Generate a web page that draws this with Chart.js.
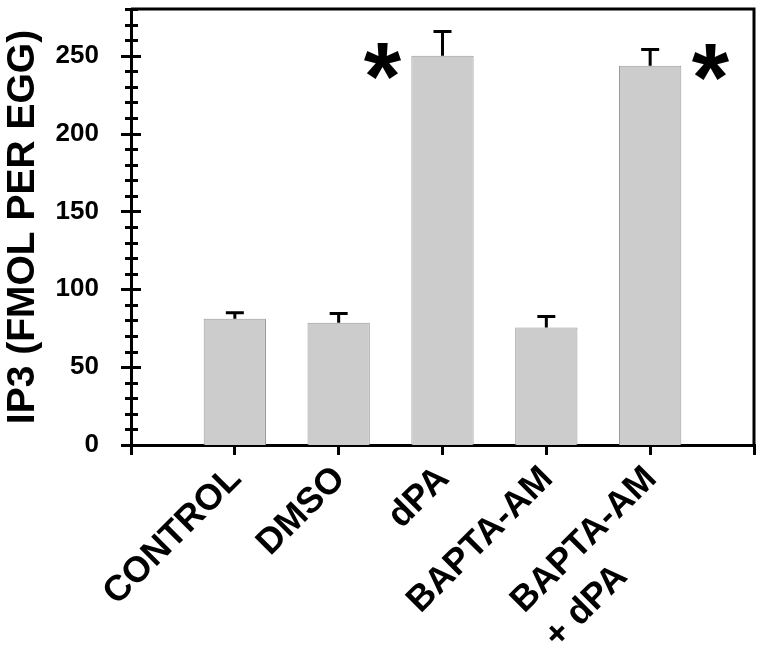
<!DOCTYPE html>
<html><head><meta charset="utf-8">
<script src="https://cdn.jsdelivr.net/npm/chart.js@4.4.0/dist/chart.umd.min.js"></script>
<style>html,body{margin:0;padding:0;background:#fff}#wrap{width:764px;height:651px}</style>
</head><body><div id="wrap"><canvas id="c" width="764" height="651"></canvas></div>
<script>
const categories = ['CONTROL', 'DMSO', 'dPA', 'BAPTA-AM', ['BAPTA-AM', '+ dPA']];
const values = [81, 78.5, 250, 75.5, 243.5];
const errors = [4, 6, 15.5, 7, 10.5];
const yTickLabels = [0, 50, 100, 150, 200, 250];
const yMin = 0, yMax = 280, yMinorStep = 10;
const yTitle = 'IP3 (FMOL PER EGG)';
const significance = [{index: 2, side: -1, value: 245}, {index: 4, side: 1, value: 244}];

const FAMILY = '"Liberation Sans", Arial, Helvetica, sans-serif';
const labels = ['', ...categories, ''];

const decorPlugin = {
  id: 'decor',
  afterDatasetsDraw(chart) {
    const ctx = chart.ctx, ys = chart.scales.y;
    const meta = chart.getDatasetMeta(0);
    ctx.save();
    ctx.strokeStyle = '#000';
    ctx.lineCap = 'butt';
    ctx.lineWidth = 3;
    values.forEach((v, i) => {
      const bar = meta.data[i + 1];
      const x = bar.x;
      const y0 = ys.getPixelForValue(v);
      const y1 = ys.getPixelForValue(v + errors[i]);
      ctx.beginPath();
      ctx.moveTo(x, y0); ctx.lineTo(x, y1);
      ctx.moveTo(x - 9, y1); ctx.lineTo(x + 9, y1);
      ctx.stroke();
    });
    ctx.fillStyle = '#000';
    ctx.font = 'bold 96px ' + FAMILY;
    ctx.textAlign = 'center';
    ctx.textBaseline = 'alphabetic';
    significance.forEach(s => {
      const bar = meta.data[s.index + 1];
      const x = bar.x + s.side * (bar.width / 2 + 29);
      const y = ys.getPixelForValue(s.value);
      ctx.fillText('*', x, y + 45);
    });
    ctx.restore();
  },
  afterDraw(chart) {
    const ctx = chart.ctx, ys = chart.scales.y, area = chart.chartArea;
    ctx.save();
    ctx.strokeStyle = '#000';
    ctx.lineWidth = 3;
    ctx.beginPath();
    ctx.moveTo(area.left, area.top); ctx.lineTo(area.right, area.top);
    ctx.lineTo(area.right, area.bottom);
    ctx.stroke();
    const ax = ys.right;
    ys.ticks.forEach(t => {
      const py = Math.round(ys.getPixelForValue(t.value)) + 0.5;
      const major = yTickLabels.includes(t.value);
      ctx.beginPath();
      if (major) { ctx.moveTo(ax - 10, py); ctx.lineTo(ax + 10, py); }
      else { ctx.moveTo(ax - 6, py); ctx.lineTo(ax + 7, py); }
      ctx.stroke();
    });
    ctx.restore();
  }
};

new Chart(document.getElementById('c'), {
  type: 'bar',
  data: {
    labels: labels,
    datasets: [{
      data: [null, ...values, null],
      backgroundColor: '#cccccc',
      borderColor: '#9a9a9a',
      borderWidth: 1,
      barPercentage: 0.6,
      categoryPercentage: 1
    }]
  },
  options: {
    responsive: false,
    animation: false,
    devicePixelRatio: 1,
    layout: {padding: {top: 9, right: 10, left: 0, bottom: 0}},
    plugins: {legend: {display: false}, tooltip: {enabled: false}},
    scales: {
      x: {
        type: 'category',
        offset: false,
        grid: {display: true, drawOnChartArea: false, drawTicks: true, tickLength: 10, lineWidth: 3, color: '#000', offset: false},
        border: {display: true, color: '#000', width: 3},
        ticks: {
          autoSkip: false, maxRotation: 45, minRotation: 45, color: '#000', padding: 1, labelOffset: 1,
          font: {family: FAMILY, size: 36, weight: 'bold', lineHeight: 1.35},
          callback: function (value, index) {
            const l = labels[index];
            if (Array.isArray(l)) return [l[0], l[1] + '         '];
            return l;
          }
        },
        afterFit: s => { s.height = 651 - 445; s.paddingLeft = 0; s.paddingRight = 0; }
      },
      y: {
        min: yMin, max: yMax,
        grid: {display: false},
        border: {display: true, color: '#000', width: 3},
        ticks: {
          stepSize: yMinorStep, autoSkip: false, color: '#000', padding: 24,
          font: {family: FAMILY, size: 26, weight: 'bold'},
          callback: v => yTickLabels.includes(v) ? String(v) : ''
        },
        title: {display: true, text: yTitle, color: '#000', padding: 0,
          font: {family: FAMILY, size: 39, weight: 'bold'}},
        afterFit: s => { s.width = 131; s.paddingTop = 0; s.paddingBottom = 0; }
      }
    }
  },
  plugins: [decorPlugin]
});
</script></body></html>
